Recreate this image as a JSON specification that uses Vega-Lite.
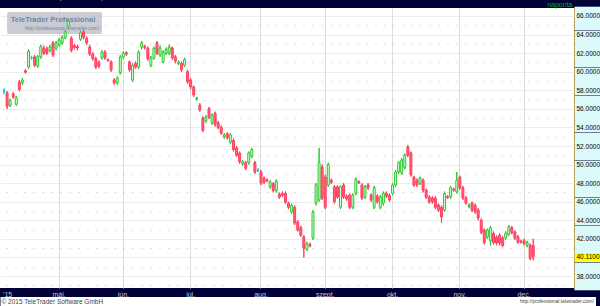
{
  "$schema": "https://vega.github.io/schema/vega-lite/v6.json",
  "width": 574,
  "height": 280,
  "autosize": "none",
  "padding": {"left": 0, "top": 8, "right": 26, "bottom": 18},
  "background": "#000036",
  "view": {"fill": "#ffffff", "stroke": null},
  "config": {"font": "Liberation Sans"},
  "title": {"text": "WTI Crude Futures (WBS 01/2016)", "anchor": "start", "fontSize": 6.5, "fontWeight": "normal", "color": "#c8c070", "offset": 0, "dx": 2},
  "datasets": {
    "ohlc": [
      {"d":"2015-04-07","o":57.9,"h":58.2,"l":57.6,"c":57.9},
      {"d":"2015-04-08","o":57.7,"h":57.9,"l":56.0,"c":56.3},
      {"d":"2015-04-09","o":56.4,"h":57.1,"l":56.2,"c":56.9},
      {"d":"2015-04-10","o":57.6,"h":57.8,"l":57.1,"c":57.3},
      {"d":"2015-04-13","o":56.5,"h":57.4,"l":56.3,"c":57.2},
      {"d":"2015-04-14","o":58.9,"h":59.1,"l":57.9,"c":58.1},
      {"d":"2015-04-15","o":58.8,"h":59.3,"l":58.6,"c":59.1},
      {"d":"2015-04-16","o":60.1,"h":60.3,"l":59.8,"c":59.95},
      {"d":"2015-04-17","o":60.5,"h":62.4,"l":60.3,"c":62.2},
      {"d":"2015-04-20","o":61.5,"h":61.7,"l":61.3,"c":61.5},
      {"d":"2015-04-21","o":61.6,"h":61.8,"l":60.5,"c":60.7},
      {"d":"2015-04-22","o":60.6,"h":61.8,"l":60.4,"c":61.6},
      {"d":"2015-04-23","o":61.6,"h":62.9,"l":61.4,"c":62.7},
      {"d":"2015-04-24","o":62.55,"h":62.8,"l":61.8,"c":62.0},
      {"d":"2015-04-27","o":62.45,"h":62.7,"l":61.8,"c":62.0},
      {"d":"2015-04-28","o":62.3,"h":62.9,"l":62.1,"c":62.65},
      {"d":"2015-04-29","o":63.1,"h":63.3,"l":61.6,"c":61.8},
      {"d":"2015-04-30","o":62.55,"h":63.3,"l":62.3,"c":63.1},
      {"d":"2015-05-01","o":62.9,"h":63.6,"l":62.7,"c":63.4},
      {"d":"2015-05-04","o":63.1,"h":63.9,"l":62.9,"c":63.7},
      {"d":"2015-05-05","o":63.7,"h":64.5,"l":63.5,"c":64.3},
      {"d":"2015-05-06","o":64.9,"h":65.7,"l":64.7,"c":65.5},
      {"d":"2015-05-07","o":63.6,"h":63.8,"l":62.1,"c":62.3},
      {"d":"2015-05-08","o":62.8,"h":63.0,"l":62.4,"c":62.6},
      {"d":"2015-05-11","o":62.7,"h":62.9,"l":62.3,"c":62.55},
      {"d":"2015-05-12","o":63.5,"h":64.4,"l":63.3,"c":64.2},
      {"d":"2015-05-13","o":64.3,"h":64.5,"l":63.5,"c":63.7},
      {"d":"2015-05-14","o":63.6,"h":63.8,"l":62.9,"c":63.1},
      {"d":"2015-05-15","o":62.65,"h":62.9,"l":61.7,"c":61.9},
      {"d":"2015-05-18","o":61.9,"h":62.1,"l":61.2,"c":61.4},
      {"d":"2015-05-19","o":61.4,"h":61.6,"l":60.3,"c":60.5},
      {"d":"2015-05-20","o":61.0,"h":61.2,"l":60.4,"c":60.6},
      {"d":"2015-05-21","o":61.5,"h":62.3,"l":61.3,"c":62.1},
      {"d":"2015-05-22","o":62.1,"h":62.3,"l":61.3,"c":61.5},
      {"d":"2015-05-25","o":61.3,"h":61.4,"l":61.1,"c":61.2},
      {"d":"2015-05-26","o":61.05,"h":61.2,"l":60.0,"c":60.2},
      {"d":"2015-05-27","o":59.1,"h":59.3,"l":58.6,"c":58.8},
      {"d":"2015-05-28","o":58.8,"h":59.5,"l":58.6,"c":59.3},
      {"d":"2015-05-29","o":59.9,"h":61.8,"l":59.7,"c":61.6},
      {"d":"2015-06-01","o":61.6,"h":62.2,"l":61.4,"c":62.0},
      {"d":"2015-06-02","o":62.05,"h":62.2,"l":61.7,"c":61.9},
      {"d":"2015-06-03","o":61.05,"h":61.2,"l":60.0,"c":60.2},
      {"d":"2015-06-04","o":59.1,"h":60.9,"l":58.9,"c":60.7},
      {"d":"2015-06-05","o":60.9,"h":61.1,"l":60.3,"c":60.5},
      {"d":"2015-06-08","o":60.5,"h":62.3,"l":60.3,"c":62.1},
      {"d":"2015-06-09","o":62.65,"h":63.3,"l":62.4,"c":63.1},
      {"d":"2015-06-10","o":62.7,"h":62.9,"l":62.4,"c":62.6},
      {"d":"2015-06-11","o":62.5,"h":62.7,"l":61.2,"c":61.4},
      {"d":"2015-06-12","o":60.7,"h":61.7,"l":60.5,"c":61.5},
      {"d":"2015-06-15","o":61.5,"h":62.7,"l":61.3,"c":62.5},
      {"d":"2015-06-16","o":63.1,"h":63.3,"l":61.8,"c":62.0},
      {"d":"2015-06-17","o":61.8,"h":62.8,"l":61.6,"c":62.55},
      {"d":"2015-06-18","o":61.05,"h":62.3,"l":60.9,"c":62.1},
      {"d":"2015-06-19","o":62.0,"h":62.6,"l":61.8,"c":62.4},
      {"d":"2015-06-22","o":62.0,"h":62.9,"l":61.8,"c":62.65},
      {"d":"2015-06-23","o":62.55,"h":62.7,"l":61.3,"c":61.5},
      {"d":"2015-06-24","o":61.6,"h":61.8,"l":60.9,"c":61.15},
      {"d":"2015-06-25","o":60.9,"h":61.2,"l":60.7,"c":61.05},
      {"d":"2015-06-26","o":60.9,"h":61.1,"l":60.0,"c":60.2},
      {"d":"2015-06-29","o":60.7,"h":61.5,"l":60.5,"c":61.3},
      {"d":"2015-06-30","o":60.0,"h":60.2,"l":58.7,"c":58.9},
      {"d":"2015-07-01","o":59.1,"h":59.3,"l":58.1,"c":58.35},
      {"d":"2015-07-02","o":58.35,"h":58.5,"l":57.3,"c":57.5},
      {"d":"2015-07-03","o":57.05,"h":57.3,"l":56.9,"c":57.15},
      {"d":"2015-07-06","o":56.4,"h":56.6,"l":55.7,"c":55.9},
      {"d":"2015-07-07","o":55.0,"h":55.2,"l":53.5,"c":53.7},
      {"d":"2015-07-08","o":54.7,"h":55.3,"l":54.5,"c":55.1},
      {"d":"2015-07-09","o":56.0,"h":56.2,"l":54.9,"c":55.1},
      {"d":"2015-07-10","o":54.5,"h":55.5,"l":54.3,"c":55.3},
      {"d":"2015-07-13","o":55.5,"h":55.7,"l":54.1,"c":54.3},
      {"d":"2015-07-14","o":54.5,"h":54.7,"l":53.8,"c":54.0},
      {"d":"2015-07-15","o":54.0,"h":54.2,"l":53.2,"c":53.4},
      {"d":"2015-07-16","o":53.0,"h":53.4,"l":52.8,"c":53.2},
      {"d":"2015-07-17","o":53.3,"h":53.5,"l":52.7,"c":52.9},
      {"d":"2015-07-20","o":52.4,"h":53.4,"l":52.2,"c":53.2},
      {"d":"2015-07-21","o":52.6,"h":52.8,"l":51.4,"c":51.6},
      {"d":"2015-07-22","o":51.8,"h":52.0,"l":50.8,"c":51.0},
      {"d":"2015-07-23","o":51.25,"h":51.4,"l":50.1,"c":50.3},
      {"d":"2015-07-24","o":50.1,"h":50.5,"l":49.9,"c":50.3},
      {"d":"2015-07-27","o":50.2,"h":50.4,"l":49.4,"c":49.6},
      {"d":"2015-07-28","o":50.2,"h":51.4,"l":50.0,"c":51.25},
      {"d":"2015-07-29","o":50.9,"h":51.8,"l":50.7,"c":51.6},
      {"d":"2015-07-30","o":50.2,"h":50.4,"l":49.0,"c":49.2},
      {"d":"2015-07-31","o":49.4,"h":49.6,"l":49.2,"c":49.4},
      {"d":"2015-08-03","o":49.2,"h":49.4,"l":47.8,"c":48.0},
      {"d":"2015-08-04","o":48.55,"h":48.7,"l":47.9,"c":48.1},
      {"d":"2015-08-05","o":48.35,"h":48.5,"l":48.1,"c":48.25},
      {"d":"2015-08-06","o":47.6,"h":48.3,"l":47.4,"c":48.1},
      {"d":"2015-08-07","o":47.95,"h":48.1,"l":47.0,"c":47.2},
      {"d":"2015-08-10","o":47.2,"h":48.4,"l":47.0,"c":48.2},
      {"d":"2015-08-11","o":46.8,"h":47.0,"l":46.3,"c":46.5},
      {"d":"2015-08-12","o":46.9,"h":47.1,"l":46.5,"c":46.7},
      {"d":"2015-08-13","o":46.9,"h":47.1,"l":45.8,"c":45.95},
      {"d":"2015-08-14","o":45.85,"h":46.0,"l":45.2,"c":45.4},
      {"d":"2015-08-17","o":44.9,"h":45.8,"l":44.7,"c":45.6},
      {"d":"2015-08-18","o":45.4,"h":45.6,"l":43.5,"c":43.7},
      {"d":"2015-08-19","o":43.8,"h":44.0,"l":42.8,"c":42.95},
      {"d":"2015-08-20","o":43.2,"h":43.4,"l":42.2,"c":42.4},
      {"d":"2015-08-21","o":42.2,"h":42.4,"l":40.0,"c":41.0},
      {"d":"2015-08-24","o":40.9,"h":41.7,"l":40.7,"c":41.45},
      {"d":"2015-08-25","o":41.4,"h":41.6,"l":41.1,"c":41.25},
      {"d":"2015-08-26","o":42.1,"h":45.1,"l":41.9,"c":44.9},
      {"d":"2015-08-27","o":45.86,"h":48.0,"l":45.6,"c":47.8},
      {"d":"2015-08-28","o":46.2,"h":51.8,"l":46.0,"c":50.2},
      {"d":"2015-08-31","o":49.75,"h":50.0,"l":46.2,"c":46.4},
      {"d":"2015-09-01","o":48.65,"h":48.9,"l":45.2,"c":45.4},
      {"d":"2015-09-02","o":47.8,"h":50.2,"l":47.6,"c":50.0},
      {"d":"2015-09-03","o":48.3,"h":48.5,"l":47.9,"c":48.1},
      {"d":"2015-09-04","o":47.6,"h":47.8,"l":45.8,"c":46.0},
      {"d":"2015-09-07","o":47.6,"h":47.8,"l":46.3,"c":46.5},
      {"d":"2015-09-08","o":45.4,"h":47.8,"l":45.2,"c":47.6},
      {"d":"2015-09-09","o":47.8,"h":48.0,"l":46.3,"c":46.5},
      {"d":"2015-09-10","o":46.6,"h":46.8,"l":46.1,"c":46.3},
      {"d":"2015-09-11","o":46.7,"h":46.9,"l":45.2,"c":45.4},
      {"d":"2015-09-14","o":45.4,"h":46.9,"l":45.2,"c":46.7},
      {"d":"2015-09-15","o":46.9,"h":48.6,"l":46.7,"c":48.4},
      {"d":"2015-09-16","o":48.15,"h":48.3,"l":47.9,"c":48.05},
      {"d":"2015-09-17","o":47.8,"h":48.0,"l":46.2,"c":46.4},
      {"d":"2015-09-18","o":46.5,"h":47.8,"l":46.3,"c":47.6},
      {"d":"2015-09-21","o":47.8,"h":48.0,"l":47.3,"c":47.5},
      {"d":"2015-09-22","o":46.7,"h":46.9,"l":46.0,"c":46.2},
      {"d":"2015-09-23","o":45.4,"h":47.7,"l":45.2,"c":47.5},
      {"d":"2015-09-24","o":46.6,"h":46.8,"l":45.8,"c":46.0},
      {"d":"2015-09-25","o":45.4,"h":46.7,"l":45.2,"c":46.5},
      {"d":"2015-09-28","o":45.85,"h":47.1,"l":45.6,"c":46.9},
      {"d":"2015-09-29","o":46.9,"h":47.1,"l":46.4,"c":46.6},
      {"d":"2015-09-30","o":46.7,"h":46.9,"l":46.0,"c":46.2},
      {"d":"2015-10-01","o":46.9,"h":48.0,"l":46.7,"c":47.8},
      {"d":"2015-10-02","o":47.8,"h":49.4,"l":47.6,"c":49.2},
      {"d":"2015-10-05","o":49.2,"h":50.4,"l":49.0,"c":50.2},
      {"d":"2015-10-06","o":49.1,"h":50.7,"l":48.9,"c":50.5},
      {"d":"2015-10-07","o":49.7,"h":51.2,"l":49.5,"c":51.0},
      {"d":"2015-10-08","o":51.9,"h":52.1,"l":50.8,"c":51.0},
      {"d":"2015-10-09","o":51.25,"h":51.4,"l":48.7,"c":48.9},
      {"d":"2015-10-12","o":48.65,"h":48.8,"l":47.6,"c":47.8},
      {"d":"2015-10-13","o":48.3,"h":48.5,"l":47.6,"c":47.8},
      {"d":"2015-10-14","o":48.0,"h":48.7,"l":47.8,"c":48.55},
      {"d":"2015-10-15","o":48.3,"h":48.5,"l":47.0,"c":47.25},
      {"d":"2015-10-16","o":47.25,"h":47.4,"l":46.3,"c":46.5},
      {"d":"2015-10-19","o":46.5,"h":46.7,"l":45.8,"c":46.0},
      {"d":"2015-10-20","o":46.4,"h":46.6,"l":45.8,"c":46.0},
      {"d":"2015-10-21","o":46.4,"h":46.6,"l":45.2,"c":45.4},
      {"d":"2015-10-22","o":45.65,"h":45.8,"l":44.9,"c":45.1},
      {"d":"2015-10-23","o":45.4,"h":45.6,"l":43.7,"c":44.35},
      {"d":"2015-10-26","o":45.1,"h":47.1,"l":44.9,"c":46.9},
      {"d":"2015-10-27","o":46.55,"h":46.7,"l":46.3,"c":46.45},
      {"d":"2015-10-28","o":46.5,"h":47.7,"l":46.3,"c":47.5},
      {"d":"2015-10-29","o":47.35,"h":47.5,"l":47.1,"c":47.25},
      {"d":"2015-10-30","o":47.05,"h":49.2,"l":46.9,"c":48.3},
      {"d":"2015-11-02","o":48.65,"h":48.8,"l":47.3,"c":47.5},
      {"d":"2015-11-03","o":47.5,"h":47.7,"l":46.2,"c":46.4},
      {"d":"2015-11-04","o":46.4,"h":46.6,"l":45.7,"c":45.85},
      {"d":"2015-11-05","o":45.5,"h":45.8,"l":45.3,"c":45.6},
      {"d":"2015-11-06","o":45.85,"h":46.0,"l":44.9,"c":45.1},
      {"d":"2015-11-09","o":45.6,"h":45.8,"l":44.7,"c":44.9},
      {"d":"2015-11-10","o":45.1,"h":45.3,"l":44.0,"c":44.25},
      {"d":"2015-11-11","o":44.0,"h":44.2,"l":42.5,"c":42.7},
      {"d":"2015-11-12","o":42.95,"h":43.1,"l":41.4,"c":41.6},
      {"d":"2015-11-13","o":42.2,"h":43.1,"l":42.0,"c":42.95},
      {"d":"2015-11-16","o":41.8,"h":43.4,"l":41.3,"c":43.2},
      {"d":"2015-11-17","o":42.6,"h":42.8,"l":41.4,"c":41.6},
      {"d":"2015-11-18","o":42.2,"h":42.4,"l":41.3,"c":41.55},
      {"d":"2015-11-19","o":42.4,"h":42.6,"l":41.3,"c":41.55},
      {"d":"2015-11-20","o":42.1,"h":42.3,"l":41.1,"c":41.3},
      {"d":"2015-11-23","o":42.1,"h":42.8,"l":41.9,"c":42.6},
      {"d":"2015-11-24","o":42.5,"h":43.5,"l":42.3,"c":43.3},
      {"d":"2015-11-25","o":43.2,"h":43.4,"l":42.5,"c":42.7},
      {"d":"2015-11-26","o":42.75,"h":42.9,"l":41.9,"c":42.1},
      {"d":"2015-11-27","o":42.2,"h":42.4,"l":41.5,"c":41.65},
      {"d":"2015-11-30","o":41.75,"h":41.9,"l":41.5,"c":41.65},
      {"d":"2015-12-01","o":41.8,"h":42.0,"l":41.3,"c":41.5},
      {"d":"2015-12-02","o":41.3,"h":41.8,"l":41.1,"c":41.6},
      {"d":"2015-12-03","o":41.3,"h":41.5,"l":39.7,"c":39.9},
      {"d":"2015-12-04","o":41.3,"h":42.0,"l":39.7,"c":40.11}
    ]
  },
  "layer": [
    {
      "data": {"name": "ohlc"},
      "transform": [{"calculate": "datum.c > datum.o ? 'up' : (datum.c < datum.o ? 'down' : 'flat')", "as": "dir"}],
      "mark": {"type": "rule", "strokeWidth": 1},
      "encoding": {
        "x": {
          "field": "d", "type": "ordinal",
          "scale": {"type": "band", "paddingInner": 0.35, "paddingOuter": 0.5, "align": 1,
            "domain": {"unionWith": ["2015-12-07","2015-12-08","2015-12-09","2015-12-10","2015-12-11","2015-12-14","2015-12-15","2015-12-16","2015-12-17","2015-12-18","2015-12-21","2015-12-22","2015-12-23"]}},
          "axis": {
            "values": ["2015-04-07","2015-05-01","2015-06-01","2015-07-01","2015-08-03","2015-09-01","2015-10-01","2015-11-02","2015-12-01"],
            "labelExpr": "datum.value == '2015-04-07' ? \"'15\" : ['jan.','febr.','márc.','ápr.','máj.','jún.','júl.','aug.','szept.','okt.','nov.','dec.'][toNumber(slice(datum.value, 5, 7)) - 1]",
            "labelAngle": 0, "labelFontSize": 7, "labelColor": "#c8c8d0", "labelPadding": -11, "labelBaseline": "top",
            "labelAlign": {"condition": {"test": "datum.value == '2015-04-07'", "value": "left"}, "value": "center"},
            "labelOffset": {"condition": {"test": "datum.value == '2015-04-07'", "value": -1}, "value": 0},
            "labelOverlap": false,
            "ticks": false,
            "domain": true, "domainColor": "#ffffff", "domainWidth": 9,
            "offset": 13,
            "grid": true, "gridColor": "#dcdcdc",
            "gridOpacity": {"condition": {"test": "datum.value == '2015-04-07'", "value": 0}, "value": 1},
            "title": "© 2015 TeleTrader Software GmbH",
            "titleFontSize": 6.5, "titleFontWeight": "normal", "titleColor": "#444444",
            "titleAnchor": "start", "titleAlign": "left", "titleBaseline": "middle", "titleX": 1, "titleY": 0.5
          }
        },
        "y": {
          "field": "l", "type": "quantitative",
          "scale": {"domain": [36.71, 66.86], "nice": false, "zero": false},
          "axis": {
            "orient": "right",
            "tickCount": 100,
            "values": [37,38,39,40,40.11,41,42,43,44,45,46,47,48,49,50,51,52,53,54,55,56,57,58,59,60,61,62,63,64,65,66,66.5],
            "labelExpr": "datum.value == 40.11 ? '40.1100' : (datum.value % 2 == 0 && datum.value != 40 ? format(datum.value, '.4f') : '')",
            "labelOverlap": false, "labelFlush": false,
            "labelAlign": "left", "labelBaseline": "middle", "labelPadding": -24, "labelFontSize": 6.5, "labelColor": "#000000",
            "ticks": true, "tickSize": 26,
            "tickColor": {"condition": {"test": "datum.value == 40.11", "value": "#ffff00"}, "value": "#dcfafa"},
            "tickWidth": 9.6,
            "domain": true, "domainColor": "#d0b040", "domainDash": [2, 1], "domainWidth": 1,
            "grid": true,
            "gridColor": {"condition": {"test": "datum.value % 2 == 0", "value": "#dcd6d6"}, "value": "#c0c0c0"},
            "gridDash": {"condition": {"test": "datum.value % 2 == 0", "value": [1, 1]}, "value": [1, 8]},
            "gridOpacity": {"condition": {"test": "datum.value % 1 != 0", "value": 0}, "value": 1},
            "title": "naponta",
            "titleAngle": 0, "titleFontSize": 7, "titleFontWeight": "normal", "titleColor": "#00b000",
            "titleAlign": "right", "titleBaseline": "middle", "titleX": -2, "titleY": -4
          }
        },
        "y2": {"field": "h"},
        "stroke": {"field": "dir", "type": "nominal", "scale": {"domain": ["up", "down", "flat"], "range": ["#2ec82e", "#ff4060", "#00d0d8"]},
          "legend": {"orient": "none", "legendX": 518, "legendY": 289, "title": "http://professional.teletrader.com/", "titleFontSize": 5, "titleFontWeight": "normal", "titleColor": "#444444", "fillColor": "#ffffff", "labelOpacity": 0, "symbolOpacity": 0, "symbolSize": 0, "padding": 2, "titlePadding": 0, "rowPadding": 0, "labelFontSize": 1}}
      }
    },
    {
      "data": {"values": [{"d1": "2015-04-08", "d2": "2015-05-21", "top": 66.43, "bottom": 64.06}]},
      "mark": {"type": "rect", "fill": "#c4c6cc", "opacity": 0.9, "cornerRadius": 2},
      "encoding": {
        "x": {"field": "d1", "type": "ordinal"},
        "x2": {"field": "d2"},
        "y": {"field": "top", "type": "quantitative"},
        "y2": {"field": "bottom"}
      }
    },
    {
      "data": {"name": "ohlc"},
      "transform": [{"calculate": "datum.c > datum.o ? 'up' : (datum.c < datum.o ? 'down' : 'flat')", "as": "dir"}],
      "mark": {"type": "rule", "strokeWidth": 1},
      "encoding": {
        "x": {"field": "d", "type": "ordinal"},
        "y": {"field": "l", "type": "quantitative"},
        "y2": {"field": "h"},
        "stroke": {"field": "dir", "type": "nominal"}
      }
    },
    {
      "data": {"name": "ohlc"},
      "transform": [{"calculate": "datum.c > datum.o ? 'up' : (datum.c < datum.o ? 'down' : 'flat')", "as": "dir"}],
      "mark": {"type": "bar", "strokeWidth": 1},
      "encoding": {
        "x": {"field": "d", "type": "ordinal"},
        "y": {"field": "o", "type": "quantitative"},
        "y2": {"field": "c"},
        "stroke": {"field": "dir", "type": "nominal"},
        "fill": {
          "field": "dir", "type": "nominal",
          "scale": {"domain": ["up", "down", "flat"], "range": ["#d4ffd4", "#ff6078", "#00d0d8"]},
          "legend": {"orient": "none", "legendX": 518, "legendY": 289, "title": "http://professional.teletrader.com/", "titleFontSize": 5, "titleFontWeight": "normal", "titleColor": "#444444", "fillColor": "#ffffff", "labelOpacity": 0, "symbolOpacity": 0, "symbolSize": 0, "padding": 2, "titlePadding": 0, "rowPadding": 0, "labelFontSize": 1}
        }
      }
    },
    {
      "data": {"values": [{"d": "2015-04-29", "p": 65.6, "t": "TeleTrader Professional"}]},
      "mark": {"type": "text", "fontSize": 7.5, "fontWeight": "bold", "color": "#7282b4", "align": "center", "baseline": "middle"},
      "encoding": {
        "x": {"field": "d", "type": "ordinal"},
        "y": {"field": "p", "type": "quantitative"},
        "text": {"field": "t"}
      }
    },
    {
      "data": {"values": [{"d": "2015-05-04", "p": 64.7, "t": "http://professional.teletrader.com/"}]},
      "mark": {"type": "text", "fontSize": 5, "color": "#7282b4", "align": "center", "baseline": "middle"},
      "encoding": {
        "x": {"field": "d", "type": "ordinal"},
        "y": {"field": "p", "type": "quantitative"},
        "text": {"field": "t"}
      }
    }
  ]
}
